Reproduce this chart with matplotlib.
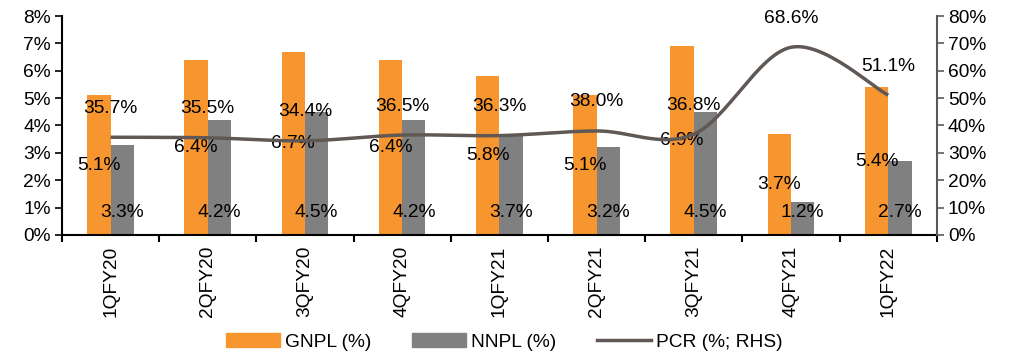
import numpy as np
import matplotlib.pyplot as plt
from matplotlib.lines import Line2D
from matplotlib.patches import Patch

plt.rcParams['font.family'] = ['Liberation Sans', 'DejaVu Sans']
plt.rcParams['font.size'] = 13.8

quarters = ['1QFY20', '2QFY20', '3QFY20', '4QFY20', '1QFY21', '2QFY21', '3QFY21', '4QFY21', '1QFY22']
gnpl = [5.1, 6.4, 6.7, 6.4, 5.8, 5.1, 6.9, 3.7, 5.4]
nnpl = [3.3, 4.2, 4.5, 4.2, 3.7, 3.2, 4.5, 1.2, 2.7]
pcr = [35.7, 35.5, 34.4, 36.5, 36.3, 38.0, 36.8, 68.6, 51.1]

orange = '#F7962F'
grey = '#808080'
line_col = '#5F5855'


def smooth(xs, ys, n=30):
    # Excel-style smoothed line: Catmull-Rom through the data points
    xs = np.asarray(xs, float)
    ys = np.asarray(ys, float)
    px = np.concatenate([[xs[0]], xs, [xs[-1]]])
    py = np.concatenate([[ys[0]], ys, [ys[-1]]])
    ox, oy = [], []
    t = np.linspace(0, 1, n)
    for i in range(1, len(px) - 2):
        p0, p1, p2, p3 = px[i - 1], px[i], px[i + 1], px[i + 2]
        q0, q1, q2, q3 = py[i - 1], py[i], py[i + 1], py[i + 2]
        c1x, c1y = p1 + (p2 - p0) / 6, q1 + (q2 - q0) / 6
        c2x, c2y = p2 - (p3 - p1) / 6, q2 - (q3 - q1) / 6
        bx = (1 - t) ** 3 * p1 + 3 * (1 - t) ** 2 * t * c1x + 3 * (1 - t) * t ** 2 * c2x + t ** 3 * p2
        by = (1 - t) ** 3 * q1 + 3 * (1 - t) ** 2 * t * c1y + 3 * (1 - t) * t ** 2 * c2y + t ** 3 * q2
        ox.extend(bx)
        oy.extend(by)
    return np.array(ox), np.array(oy)


fig = plt.figure(figsize=(10.15, 3.58), dpi=100)
ax = fig.add_axes([0.061, 0.344, 0.862, 0.611])
ax2 = ax.twinx()

x = np.arange(len(quarters))
w = 0.24
ax.bar(x - w / 2, gnpl, w, color=orange, zorder=2)
ax.bar(x + w / 2, nnpl, w, color=grey, zorder=2)

for i in range(len(x)):
    ax.text(x[i] - w / 2, gnpl[i] / 2, f'{gnpl[i]:.1f}%', ha='center', va='center', zorder=5)
    ax.text(x[i] + w / 2, 0.8, f'{nnpl[i]:.1f}%', ha='center', va='center', zorder=5)

sx, sy = smooth(x, pcr)
ax2.plot(sx, sy, color=line_col, lw=2.5, solid_capstyle='butt', zorder=3)
for i in range(len(x)):
    ax2.annotate(f'{pcr[i]:.1f}%', (x[i], pcr[i]), xytext=(0, 29), textcoords='offset pixels',
                 ha='center', va='center')

ax.set_xlim(-0.5, len(x) - 0.5)
ax.set_ylim(0, 8)
ax2.set_ylim(0, 80)
ax.set_yticks(np.arange(0, 9, 1))
ax.set_yticklabels([f'{v}%' for v in range(0, 9)])
ax2.set_yticks(np.arange(0, 81, 10))
ax2.set_yticklabels([f'{v}%' for v in range(0, 81, 10)])

ax.set_xticks(np.arange(-0.5, len(x), 1))
ax.set_xticklabels([])
ax.set_xticks(x, minor=True)
ax.set_xticklabels(quarters, minor=True, rotation=90)
ax.tick_params(axis='x', which='minor', length=0, pad=8)
ax.tick_params(axis='x', which='major', length=5, width=1.5, direction='out')
ax.tick_params(axis='y', length=5, width=1.2, direction='out', pad=3)
ax2.tick_params(axis='y', length=5, width=1.2, direction='out', color=line_col, pad=3)

for a in (ax, ax2):
    a.spines['top'].set_visible(False)
ax.spines['right'].set_visible(False)
ax2.spines['left'].set_visible(False)
ax2.spines['bottom'].set_visible(False)
ax.spines['left'].set_linewidth(1.5)
ax.spines['bottom'].set_linewidth(1.5)
ax2.spines['right'].set_linewidth(1.5)
ax2.spines['right'].set_color(line_col)

handles = [Patch(color=orange), Patch(color=grey), Line2D([], [], color=line_col, lw=2.5)]
fig.legend(handles, ['GNPL (%)', 'NNPL (%)', 'PCR (%; RHS)'], loc='center', bbox_to_anchor=(0.497, 0.045),
           ncol=3, frameon=False, handlelength=2.8, handleheight=0.7, handletextpad=0.3, columnspacing=2.1)

fig.savefig('out.png', dpi=100)
